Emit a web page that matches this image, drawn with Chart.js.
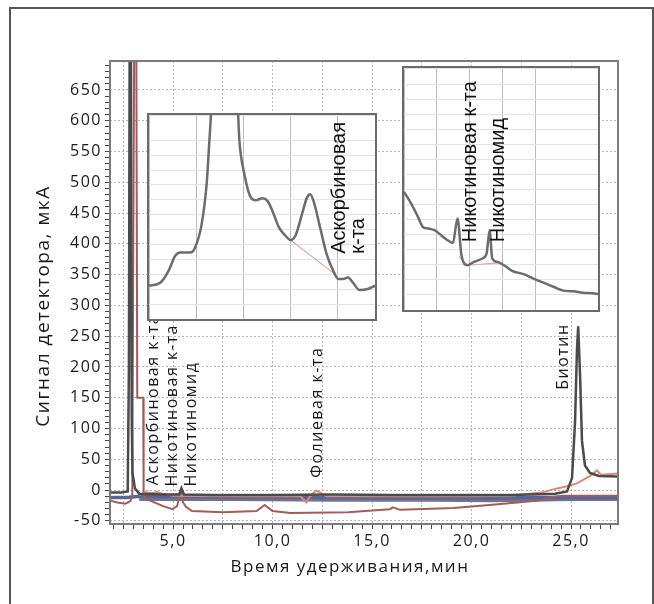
<!DOCTYPE html>
<html lang="ru">
<head>
<meta charset="utf-8">
<title>Хроматограмма</title>
<script src="https://cdn.jsdelivr.net/npm/chart.js@4.4.1/dist/chart.umd.min.js"></script>
<style>
  html, body { margin: 0; padding: 0; background: #fff; }
  #wrap { position: relative; width: 654px; height: 604px; overflow: hidden; }
  #frame { position: absolute; left: 9px; top: 7px; width: 641px; height: 700px; border: 2px solid #555; border-bottom: none; }
  #main { position: absolute; left: 0; top: 0; }
  .inset { position: absolute; background: #fff; border: 2px solid #6b6b6b; }
  .inset canvas { display: block; }
</style>
</head>
<body>
<div id="wrap">
  <div id="frame"></div>
  <canvas id="main" width="654" height="604"></canvas>
  <div class="inset" style="left:147px;top:113px;width:226px;height:204px"><canvas id="inset1" width="226" height="204"></canvas></div>
  <div class="inset" style="left:402px;top:66px;width:194px;height:242px"><canvas id="inset2" width="194" height="242"></canvas></div>
</div>
<script>
// основная хроматограмма, время в мин, сигнал в мкА
const darkTime   = [1.85, 2.4, 2.72, 2.78, 2.82, 2.88, 2.92, 2.96, 3.0, 3.08, 3.3, 4.5, 5.3, 5.42, 5.55, 7, 10, 13, 16, 19, 22, 24.2, 24.8, 25.05, 25.2, 25.3, 25.36, 25.45, 25.55, 25.7, 25.95, 26.4, 27.4];
const darkSignal = [-4, -4, -2, 200, 760, 760, 120, 27, 20, 3, -6, -7, -7, 3, -7, -8, -8, -7, -8, -8, -8, -6, -2, 20, 110, 230, 266, 190, 80, 40, 28, 23, 22];

const brownTime   = [1.85, 2.2, 2.6, 2.85, 2.95, 3.0, 3.05, 3.15, 3.2, 3.5, 3.52, 3.7, 4.5, 4.97, 5.2, 5.4, 5.5, 5.65, 5.95, 7.5, 9.2, 9.6, 10.0, 10.9, 13.8, 15.9, 16.05, 16.4, 19.1, 20.9, 22.3, 23.35, 24.05, 24.6, 25.2, 27.4];
const brownSignal = [-17, -20, -22, -18, -10, 400, 760, 760, 150, 150, -10, -15, -26, -31, -26, 0, -20, -27, -34, -36, -34, -24, -34, -37, -36, -31, -28, -32, -29, -24, -20, -17, -11, -9, -9, -9];

const salmonTime   = [3.3, 3.6, 3.9, 4.2, 4.5, 5.0, 8, 11.4, 11.7, 11.85, 12.0, 12.2, 12.4, 12.7, 16, 20, 22, 23.5, 24.2, 24.9, 25.3, 26.0, 26.3, 26.5, 27.4];
const salmonSignal = [-8, -3, -5, -3, -6, -9, -10, -10, -20, -12, -6, -1, -4, -10, -10, -10, -9, -4, 2, 7, 11, 24, 32, 25, 27];

const blueTime   = [1.85, 2.7, 3.3, 8, 13, 18, 21, 23, 25, 27.4];
const blueSignal = [-12, -12, -10, -11, -12, -12, -13, -12, -12, -12];

const greyTime   = [3.3, 8, 13, 18, 21, 23, 25, 27.4];
const greySignal = [-15, -15, -16, -16, -17, -16, -15, -15];

// вставки (условные единицы, % окна)
const inset1Time   = [0, 5.1, 8.7, 11.6, 13.8, 18.2, 20.4, 23.3, 25.5, 26.9, 28.2, 38.9, 40.0, 42.2, 45.1, 47.3, 50.2, 52.4, 54.6, 57.5, 60.4, 62.6, 64.8, 67.7, 69.9, 71.3, 72.8, 75.7, 78.6, 81.5, 83.7, 85.9, 88.1, 90.2, 93.2, 96.8, 100];
const inset1Signal = [16.3, 17.9, 23.7, 31.0, 32.6, 32.6, 35.1, 46.5, 66.1, 90.5, 110, 110, 87.3, 71.0, 59.5, 58.2, 59.2, 57.9, 53.0, 44.9, 40.8, 38.7, 40.8, 51.4, 59.5, 61.2, 57.9, 44.9, 31.8, 23.7, 19.6, 19.6, 20.4, 17.9, 14.2, 14.7, 16.3];
const inset1BaseTime   = [62.6, 82.2];
const inset1BaseSignal = [38.7, 22.0];

const inset2Time   = [0, 3.7, 7.2, 9.7, 12.3, 15.7, 19.1, 22.5, 25.2, 27.6, 29.6, 32.7, 36.1, 40.4, 42.6, 44.1, 45.5, 48.0, 52.3, 55.7, 61.7, 66.8, 71.9, 77.0, 82.1, 87.2, 92.3, 97.4, 100];
const inset2Signal = [48.8, 44.0, 38.5, 34.3, 33.7, 33.0, 30.9, 28.8, 27.7, 37.8, 22.7, 18.5, 19.9, 21.3, 23.4, 33.0, 21.3, 19.9, 18.1, 16.2, 14.8, 13.0, 11.3, 9.6, 8.0, 7.7, 7.1, 6.9, 6.6];
const inset2BaseTime   = [28.4, 32.7, 50.6];
const inset2BaseSignal = [22.0, 18.5, 19.6];

const xLabelEvery = 5;     // подписи 5,0 10,0 ...
const yLabelEvery = 50;    // подписи 0 50 ... 650
const yLabelMax = 650;

const FONT = '"Open Sans", "Noto Sans", sans-serif';
Chart.defaults.font.family = FONT;
Chart.defaults.color = '#1a1a1a';

const pts = (t, v) => t.map((x, i) => ({ x: x, y: v[i] }));
const isMult = (v, s) => Math.abs(v / s - Math.round(v / s)) < 1e-6;

function line(t, v, color, width, order) {
  return {
    data: pts(t, v), borderColor: color, borderWidth: width,
    pointRadius: 0, tension: 0, fill: false, order: order
  };
}

// подписи пиков
const peakLabels = [
  { text: 'Аскорбиновая к-та', t: 4.0, v: 8 },
  { text: 'Никотиновая к-та', t: 4.95, v: 6 },
  { text: 'Никотиномид', t: 5.9, v: 6 },
  { text: 'Фолиевая к-та', t: 12.24, v: 20 },
  { text: 'Биотин', t: 24.6, v: 163 }
];

const spacing = {
  id: 'spacing',
  beforeUpdate(chart) { chart.ctx.letterSpacing = '1.5px'; },
  beforeDraw(chart) { chart.ctx.letterSpacing = '1.5px'; }
};

const mainDecor = {
  id: 'mainDecor',
  afterDatasetsDraw(chart) {
    const { ctx, chartArea: a, scales: { x, y } } = chart;
    ctx.save();
    ctx.strokeStyle = '#7b7b7b';
    ctx.lineWidth = 2;
    ctx.strokeRect(a.left, a.top, a.right - a.left, a.bottom - a.top);

    ctx.fillStyle = '#1a1a1a';
    ctx.font = '16px ' + FONT;
    ctx.textBaseline = 'middle';
    ctx.textAlign = 'left';
    peakLabels.forEach(l => {
      ctx.save();
      ctx.translate(x.getPixelForValue(l.t), y.getPixelForValue(l.v));
      ctx.rotate(-Math.PI / 2);
      ctx.fillText(l.text, 0, 0);
      ctx.restore();
    });

    // подписи осей
    ctx.font = '17px ' + FONT;
    ctx.textAlign = 'center';
    ctx.fillText('Время удерживания,мин', 350, 567);
    ctx.font = '19px ' + FONT;
    ctx.translate(44, 306);
    ctx.rotate(-Math.PI / 2);
    ctx.fillText('Сигнал детектора, мкА', 0, 0);
    ctx.restore();
  }
};

new Chart(document.getElementById('main'), {
  type: 'line',
  data: {
    datasets: [
      line(darkTime, darkSignal, '#4b4b4b', 2.5, 0),
      line(salmonTime, salmonSignal, '#e08a70', 2, 1),
      line(brownTime, brownSignal, '#a35c5a', 2, 2),
      line(blueTime, blueSignal, '#56659c', 3.5, 3),
      line(greyTime, greySignal, '#72748c', 3.5, 4)
    ]
  },
  options: {
    responsive: false,
    animation: false,
    devicePixelRatio: 1,
    layout: { padding: { top: 61, right: 36, left: 0, bottom: 0 } },
    plugins: { legend: { display: false }, tooltip: { enabled: false } },
    scales: {
      x: {
        type: 'linear', min: 1.83, max: 27.36,
        afterFit: s => { s.height = 80; },
        border: { display: false, dash: [2, 2] },
        grid: {
          color: c => isMult(c.tick.value, 2.5) ? '#b5b5b5' : 'rgba(0,0,0,0)',
          tickColor: '#444', tickLength: 5
        },
        ticks: {
          stepSize: 0.5, autoSkip: false, maxRotation: 0, padding: 3,
          font: { size: 16 },
          includeBounds: false,
          callback: v => isMult(v, xLabelEvery) ? v.toFixed(1).replace('.', ',') : ''
        }
      },
      y: {
        min: -55, max: 697,
        afterFit: s => { s.width = 110; },
        border: { display: false, dash: [2, 2] },
        grid: {
          color: c => isMult(c.tick.value, yLabelEvery) ? '#b5b5b5' : 'rgba(0,0,0,0)',
          tickColor: '#444', tickLength: 5
        },
        ticks: {
          stepSize: 10, autoSkip: false, padding: 3,
          font: { size: 16 },
          includeBounds: false,
          callback: v => (isMult(v, yLabelEvery) && v <= yLabelMax) ? String(v) : ''
        }
      }
    }
  },
  plugins: [spacing, mainDecor]
});

function makeInset(id, t, v, bt, bv, xStep, yStep, labels) {
  const insetText = {
    id: 'insetText',
    afterDatasetsDraw(chart) {
      const { ctx, scales: { x, y } } = chart;
      ctx.save();
      ctx.fillStyle = '#111';
      ctx.font = '20px "Liberation Sans", Arial, sans-serif';
      ctx.textBaseline = 'middle';
      labels.forEach(l => {
        ctx.save();
        ctx.translate(x.getPixelForValue(l.t), y.getPixelForValue(l.v));
        ctx.rotate(-Math.PI / 2);
        ctx.fillText(l.text, 0, 0);
        ctx.restore();
      });
      ctx.restore();
    }
  };
  new Chart(document.getElementById(id), {
    type: 'line',
    data: {
      datasets: [
        { data: pts(t, v), borderColor: '#6c6c6c', borderWidth: 2.5, pointRadius: 0,
          cubicInterpolationMode: 'monotone', order: 0 },
        { data: pts(bt, bv), borderColor: '#e9a3a3', borderWidth: 1.2, pointRadius: 0, order: 1 }
      ]
    },
    options: {
      responsive: false,
      animation: false,
      devicePixelRatio: 1,
      layout: { padding: 0 },
      plugins: { legend: { display: false }, tooltip: { enabled: false } },
      scales: {
        x: {
          type: 'linear', min: 0, max: 100,
          border: { display: false },
          grid: { color: '#bdbdbd', drawTicks: false },
          ticks: { display: false, stepSize: xStep }
        },
        y: {
          min: 0, max: 100,
          border: { display: false },
          grid: { color: '#e3e3e3', drawTicks: false },
          ticks: { display: false, stepSize: yStep }
        }
      }
    },
    plugins: [insetText]
  });
}

makeInset('inset1', inset1Time, inset1Signal, inset1BaseTime, inset1BaseSignal, 20.8, 7.3, [
  { text: 'Аскорбиновая', t: 84.2, v: 32 },
  { text: 'к-та', t: 92.5, v: 32 }
]);
makeInset('inset2', inset2Time, inset2Signal, inset2BaseTime, inset2BaseSignal, 17, 6.2, [
  { text: 'Никотиновая к-та', t: 34.4, v: 28 },
  { text: 'Никотиномид', t: 48.7, v: 28 }
]);
</script>
</body>
</html>
